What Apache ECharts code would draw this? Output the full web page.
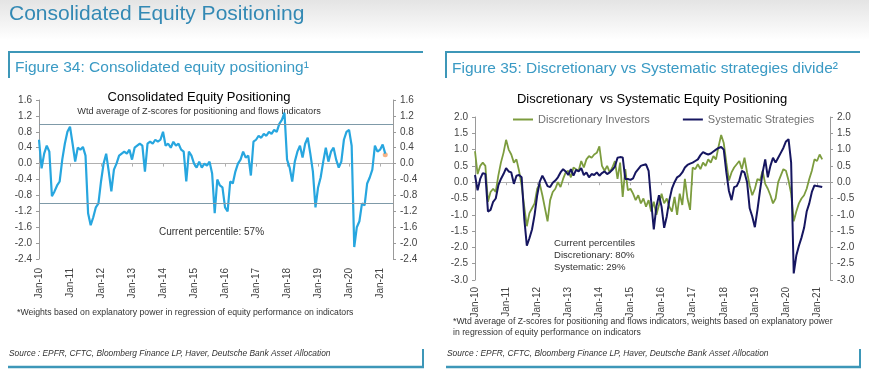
<!DOCTYPE html>
<html>
<head>
<meta charset="utf-8">
<title>Consolidated Equity Positioning</title>
<script src="https://cdn.jsdelivr.net/npm/echarts@6.0.0/dist/echarts.min.js"></script>
<style>
  html, body { margin: 0; padding: 0; background: #fff; }
  #chart { width: 869px; height: 377px; }
</style>
</head>
<body>
<div id="chart"></div>
<script>
// month categories Jan-10 .. Jun-21, labels only on January
const years = ['10', '11', '12', '13', '14', '15', '16', '17', '18', '19', '20', '21']
const monthNames = ['Jan', 'Feb', 'Mar', 'Apr', 'May', 'Jun', 'Jul', 'Aug', 'Sep', 'Oct', 'Nov', 'Dec']
const months = []
years.forEach(y => {
  monthNames.forEach((m, i) => {
    if (y !== '21' || i < 6) months.push(m + '-' + y)
  })
})

// Figure 34 - consolidated positioning (monthly)
const consolidated = [
  0.6, -0.12, 0.25, 0.45, 0.3, -0.82, -0.7, -0.55, -0.45, 0.1, 0.5, 0.8,
  0.93, 0.5, 0.05, 0.4, 0.35, 0.42, 0.2, -1.25, -1.55, -1.35, -1.1, -1.0,
  -0.45, 0.0, 0.25, -0.2, -0.7, -0.15, 0.0, 0.2, 0.25, 0.3, 0.25, 0.35,
  0.1, 0.4, 0.45, 0.5, 0.45, -0.2, 0.5, 0.55, 0.5, 0.6, 0.55, 0.6,
  0.8, 0.45, 0.5, 0.4, 0.55, 0.45, 0.5, 0.35, 0.3, -0.45, 0.3, 0.2,
  0.0, -0.1, 0.05, -0.1, 0.0, -0.05, 0.05, -0.25, -1.25, -0.4, -0.55, -0.6,
  -1.1, -1.2, -0.45, -0.5, -0.2, 0.0, 0.1, 0.3, 0.15, 0.2, -0.3, 0.55,
  0.6, 0.7, 0.65, 0.75, 0.7, 0.8, 0.75, 0.85, 0.8, 1.0, 1.1, 1.28,
  0.1, -0.1, -0.45, 0.05, 0.3, 0.45, 0.15, 0.5, 0.65, 0.25, -0.2, -1.1,
  -0.6, -0.35, 0.05, 0.4, 0.05, 0.3, 0.4, 0.1, -0.1, 0.05, 0.6, 0.8,
  0.85, 0.45, -2.1, -1.6, -1.45, -1.0, -1.05, -0.5, -0.35, -0.15, 0.45, 0.3,
  0.35, 0.48, 0.25
]
const latestIdx = 134
const latestVal = 0.22
const bandLevels = [1, -1]

// Figure 35 - discretionary vs systematic
const discretionary = [
  0.95, 0.25, 0.5, 0.6, 0.5, -0.6, -0.3, -0.2, -0.3, 0.2, 0.6, 0.9,
  1.3, 1.0, 0.85, 0.6, 0.7, 0.35, -0.1, -0.75, -1.35, -0.95, -0.8, -0.65,
  -0.2, -0.05, -0.4, -0.8, -1.2, -0.55, -0.3, -0.2, 0.0, -0.15, 0.1, 0.3,
  0.35, 0.15, 0.45, 0.4, 0.35, 0.65, 0.45, 0.7, 0.8, 0.75, 0.85, 0.9,
  1.1, 0.5, 0.35, 0.5, 0.3, 0.45, 0.65, 0.1, 0.6, -0.45, 0.4, -0.25,
  -0.2, -0.35, -0.55, -0.4, -0.65, -0.5, -0.75, -0.55, -0.9, -0.6, -1.0, -0.7,
  -0.35, -0.65, -0.5, -0.75, -0.9, -0.45, -1.0, -0.35, -0.7, 0.1, -0.5, -0.85,
  0.45, 0.4, 0.55, 0.4, 0.6, 0.5, 0.7, 0.6, 0.8, 0.7, 1.1, 1.45,
  1.2, 0.6, 0.05, 0.3, 0.45, 0.55, 0.65, 0.4, 0.75, 0.3, -0.1, -0.4,
  -0.2, 0.1, 0.05, 0.35, -0.05, -0.2, -0.4, -0.65, -0.5, 0.0, 0.2, 0.4,
  0.35, 0.05, -0.35, -1.2, -0.9, -0.65, -0.5, -0.4, -0.2, 0.1, 0.35, 0.7,
  0.65, 0.85, 0.7
]
const systematic = [
  0.22, -0.25, 0.1, 0.28, 0.25, -0.9, -0.85, -0.6, -0.5, -0.1, 0.1, 0.25,
  0.43, 0.33, 0.3, -0.05, 0.2, 0.22, 0.15, -1.1, -1.95, -1.72, -1.45, -1.0,
  -0.4, 0.02, 0.2, 0.05, -0.12, -0.15, -0.02, 0.05, 0.15, 0.3, 0.4, 0.33,
  0.22, 0.4, 0.2, 0.38, 0.33, 0.43, 0.22, 0.3, 0.15, 0.25, 0.22, 0.3,
  0.2, 0.28, 0.33, 0.25, 0.3, 0.38, 0.48, 0.75, 0.77, 0.76, 0.1, 0.1,
  0.07, 0.12, 0.3, 0.4, 0.5, 0.53, 0.55, 0.35, -0.6, -1.45, -0.75, -0.4,
  -0.75, -1.4, -1.05, -0.55, -0.2, 0.0, 0.15, 0.2, 0.3, 0.45, 0.53, 0.57,
  0.6, 0.65, 0.7, 0.83, 0.92, 0.88, 0.85, 0.88, 0.94, 1.0, 1.05, 1.08,
  1.0, 0.3, -0.27, -0.55, -0.15, -0.12, 0.05, 0.35, 0.3, 0.0, -0.8, -1.05,
  -1.38, -0.85, -0.25, 0.3, 0.7, 0.15, 0.5, 0.75, 0.6, 0.75, 0.9, 1.05,
  1.25, 1.32, 0.6, -2.8, -2.25, -1.95, -1.7, -1.4, -0.9, -0.65, -0.3, -0.1,
  -0.12, -0.13, -0.15
]

const font = 'Liberation Sans, Arial, sans-serif'
const teal = '#3a9ac4'
const boxLine = '#3d97b8'
const axisGray = '#9a9a9a'
const labelColor = '#444'
const isJan = i => i % 12 === 0
const fmt = v => (Math.abs(v) < 1e-9 ? 0 : v).toFixed(1)

function labelAxis(gridIndex, margin) {
  return {
    type: 'category', gridIndex: gridIndex, data: months, boundaryGap: false, position: 'bottom',
    axisLine: { show: false, onZero: false },
    axisTick: { show: false },
    axisLabel: { interval: isJan, rotate: 90, margin: margin, fontSize: 10, color: labelColor, fontFamily: font }
  }
}
function zeroAxis(gridIndex) {
  return {
    type: 'category', gridIndex: gridIndex, data: months, boundaryGap: false, position: 'bottom',
    axisLine: { onZero: true, lineStyle: { color: '#b0b0b0', width: 1 } },
    axisTick: { interval: isJan, length: 3, lineStyle: { color: '#b0b0b0' } },
    axisLabel: { show: false },
    splitLine: { show: false }
  }
}
function valueAxis(gridIndex, position, min, max, interval, margin) {
  return {
    type: 'value', gridIndex: gridIndex, position: position, min: min, max: max, interval: interval,
    axisLine: { show: true, lineStyle: { color: axisGray } },
    axisTick: { show: true, length: 3, lineStyle: { color: axisGray } },
    axisLabel: { margin: margin, fontSize: 10, color: labelColor, fontFamily: font, formatter: fmt },
    splitLine: { show: false }
  }
}
function text(x, y, str, size, color, extra) {
  return {
    type: 'text', x: x, y: y, silent: true,
    style: Object.assign({ text: str, fill: color, fontSize: size, fontFamily: font, verticalAlign: 'middle' }, extra || {})
  }
}
function line(x1, y1, x2, y2, color, w) {
  return { type: 'line', silent: true, shape: { x1: x1, y1: y1, x2: x2, y2: y2 }, style: { stroke: color, lineWidth: w } }
}

const chart = echarts.init(document.getElementById('chart'))
const options = {
  animation: false,
  backgroundColor: '#ffffff',
  grid: [
    { left: 39, top: 100, width: 354, height: 159 },
    { left: 475, top: 117, width: 355, height: 163 }
  ],
  xAxis: [labelAxis(0, 9), zeroAxis(0), labelAxis(1, 7), zeroAxis(1)],
  yAxis: [
    valueAxis(0, 'left', -2.4, 1.6, 0.4, 7),
    valueAxis(0, 'right', -2.4, 1.6, 0.4, 7),
    valueAxis(1, 'left', -3, 2, 0.5, 7),
    valueAxis(1, 'right', -3, 2, 0.5, 7)
  ],
  legend: {
    left: 508, top: 109, icon: 'rect', itemWidth: 20, itemHeight: 2, itemGap: 33,
    textStyle: { fontSize: 11, color: '#707070', fontFamily: font },
    data: ['Discretionary Investors', 'Systematic Strategies']
  },
  series: [
    {
      name: 'Consolidated', type: 'line', xAxisIndex: 0, yAxisIndex: 0,
      data: consolidated, symbol: 'none',
      lineStyle: { color: '#27a6df', width: 2.2 }, itemStyle: { color: '#27a6df' },
      markLine: {
        silent: true, symbol: 'none', label: { show: false },
        lineStyle: { color: '#7f9aa8', width: 1, type: 'solid' },
        data: bandLevels.map(v => ({ yAxis: v }))
      }
    },
    {
      name: 'Latest', type: 'scatter', xAxisIndex: 0, yAxisIndex: 0,
      data: [[latestIdx, latestVal]], symbolSize: 5, itemStyle: { color: '#f2a06a' }
    },
    {
      name: 'Discretionary Investors', type: 'line', xAxisIndex: 2, yAxisIndex: 2,
      data: discretionary, symbol: 'none',
      lineStyle: { color: '#7c9c3e', width: 1.8 }, itemStyle: { color: '#7c9c3e' }
    },
    {
      name: 'Systematic Strategies', type: 'line', xAxisIndex: 2, yAxisIndex: 2,
      data: systematic, symbol: 'none',
      lineStyle: { color: '#161660', width: 2 }, itemStyle: { color: '#161660' }
    }
  ],
  graphic: [
    {
      type: 'rect', silent: true, z: -10, shape: { x: 0, y: 0, width: 869, height: 40 },
      style: { fill: new echarts.graphic.LinearGradient(0, 0, 0, 1, [{ offset: 0, color: '#e4e4e4' }, { offset: 1, color: '#ffffff' }]) }
    },
    text(9, 14, 'Consolidated Equity Positioning', 21, '#3389b4'),

    // figure 34 frame
    line(8, 52, 423, 52, boxLine, 2),
    line(9, 52, 9, 78, boxLine, 2),
    line(8, 367, 424, 367, boxLine, 2.5),
    line(423, 349, 423, 367, boxLine, 2),
    text(15, 68, 'Figure 34: Consolidated equity positioning¹', 15.5, teal),
    text(199, 97, 'Consolidated Equity Positioning', 13, '#000', { align: 'center' }),
    text(199, 111.5, 'Wtd average of Z-scores for positioning and flows indicators', 9.2, '#333', { align: 'center' }),
    text(159, 232.5, 'Current percentile: 57%', 10, '#333'),
    text(17, 313, '*Weights based on explanatory power in regression of equity performance on indicators', 8.7, '#333'),
    text(9, 354, 'Source : EPFR, CFTC, Bloomberg Finance LP, Haver, Deutsche Bank Asset Allocation', 8.4, '#333', { fontStyle: 'italic' }),

    // figure 35 frame
    line(445, 52, 860, 52, boxLine, 2),
    line(446, 52, 446, 78, boxLine, 2),
    line(446, 367, 861, 367, boxLine, 2.5),
    line(860, 349, 860, 367, boxLine, 2),
    text(452, 69, 'Figure 35: Discretionary vs Systematic strategies divide²', 15.5, teal),
    text(652, 99.5, 'Discretionary  vs Systematic Equity Positioning', 13, '#000', { align: 'center' }),
    text(554, 243.5, 'Current percentiles', 9.6, '#333'),
    text(554, 255.5, 'Discretionary: 80%', 9.6, '#333'),
    text(554, 267.5, 'Systematic: 29%', 9.6, '#333'),
    text(453, 321.5, '*Wtd average of Z-scores for positioning and flows indicators, weights based on explanatory power', 8.7, '#333'),
    text(453, 332.5, 'in regression of equity performance on indicators', 8.7, '#333'),
    text(447, 354, 'Source : EPFR, CFTC, Bloomberg Finance LP, Haver, Deutsche Bank Asset Allocation', 8.4, '#333', { fontStyle: 'italic' })
  ]
}
chart.setOption(options)
</script>
</body>
</html>
